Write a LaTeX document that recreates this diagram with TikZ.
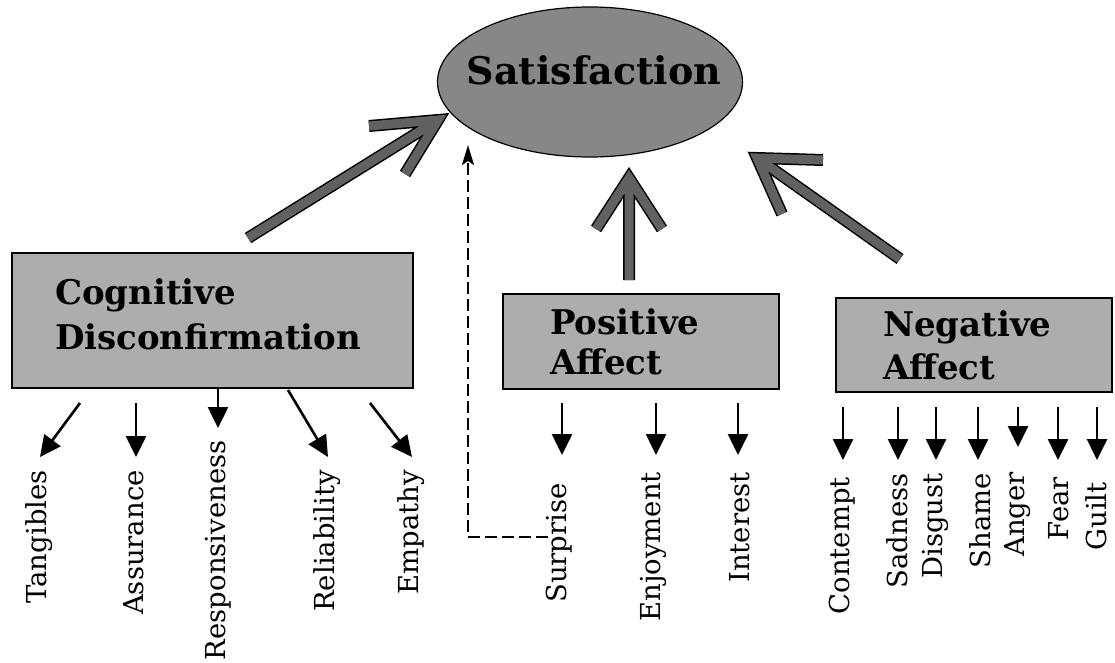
\documentclass[tikz,border=0pt]{standalone}
\usepackage{fontspec}
\setmainfont{DejaVu Serif}
\usetikzlibrary{shapes.geometric,arrows.meta}
\begin{document}
\begin{tikzpicture}[x=1pt,y=-1pt,
  box/.style={draw=black,line width=1.2pt,fill=black!32,rectangle,align=left,inner ysep=0pt},
  lab/.style={rotate=90,anchor=east,inner sep=0pt,font=\fontsize{27.5}{27.5}\selectfont},
  small/.style={line width=2.6pt,-{Triangle[width=20pt,length=21pt]}},
  big/.style={line width=1.5pt,double=black!62,double distance=9pt,line join=miter,line cap=butt},
  dashedarrow/.style={line width=2.6pt,dash pattern=on 12pt off 5pt,-{Stealth[width=12pt,length=20pt,inset=4pt]}}
]
\useasboundingbox (0,0) rectangle (1115,663);

% Satisfaction ellipse
\node[ellipse,draw=black,line width=1.2pt,fill=black!47,minimum width=305pt,minimum height=150pt,inner sep=0pt] (sat) at (590,82) {};
\node[anchor=base,inner sep=0pt,font=\bfseries\fontsize{38}{38}\selectfont] (sattext) at (594,85) {Satisfaction};

% boxes
\node[box,minimum width=401pt,minimum height=135pt,text width=315pt,inner xsep=43pt,font=\bfseries\fontsize{34}{45}\selectfont] (cog) at (212.5,320.5) {Cognitive\\Disconfirmation\rule[-12pt]{0pt}{12pt}};
\node[box,minimum width=276pt,minimum height=95pt,text width=182pt,inner xsep=47pt,font=\bfseries\fontsize{34}{40}\selectfont] (pos) at (641,341.5) {Positive\\Affect};
\node[box,minimum width=276pt,minimum height=94pt,text width=182pt,inner xsep=47pt,font=\bfseries\fontsize{34}{43}\selectfont] (neg) at (974,345) {Negative\\Affect};

% big arrows
\coordinate (a1tail) at (248,238); \coordinate (a1tip) at (438,120);
\coordinate (a1b1) at (369,126);   \coordinate (a1b2) at (405,174);
\draw[big] (a1b1) -- (a1tip) -- (a1b2) (a1tail) -- (a1tip);

\coordinate (a2tail) at (629,280); \coordinate (a2tip) at (629,178);
\coordinate (a2b1) at (596,229);   \coordinate (a2b2) at (662,229);
\draw[big] (a2b1) -- (a2tip) -- (a2b2) (a2tail) -- (a2tip);

\coordinate (a3tail) at (900,259); \coordinate (a3tip) at (757,158);
\coordinate (a3b1) at (823,160);   \coordinate (a3b2) at (782,214);
\draw[big] (a3b1) -- (a3tip) -- (a3b2) (a3tail) -- (a3tip);

% labels
\node[lab] (tang) at (39,470) {Tangibles};
\node[lab] (assu) at (134,470) {Assurance};
\node[lab] (resp) at (218,440) {Responsiveness};
\node[lab] (reli) at (327,470) {Reliability};
\node[lab] (empa) at (411,470) {Empathy};
\node[lab] (surp) at (559,483) {Surprise};
\node[lab] (enjo) at (653,472) {Enjoyment};
\node[lab] (inte) at (740,472) {Interest};
\node[lab] (cont) at (842,477) {Contempt};
\node[lab] (sadn) at (897,473) {Sadness};
\node[lab] (disg) at (935,473) {Disgust};
\node[lab] (sham) at (980,473) {Shame};
\node[lab] (ange) at (1018,472) {Anger};
\node[lab] (fear) at (1059,477) {Fear};
\node[lab] (guil) at (1096,482) {Guilt};

% small arrows, cognitive
\coordinate (s1) at (80,403);  \coordinate (e1) at (40,457);
\coordinate (s2) at (136,403); \coordinate (e2) at (136,457);
\coordinate (s3) at (218,388); \coordinate (e3) at (218,428);
\coordinate (s4) at (288,390); \coordinate (e4) at (328,457);
\coordinate (s5) at (370,403); \coordinate (e5) at (412,457);
\foreach \i in {1,...,5} {\draw[small] (s\i) -- (e\i);}

% small arrows, positive
\foreach \x [count=\i] in {562,656,738} {
  \coordinate (ps\i) at (\x,403); \coordinate (pe\i) at (\x,455);
  \draw[small] (ps\i) -- (pe\i);
}
% small arrows, negative
\foreach \x/\e [count=\i] in {843/460,898/460,936/460,978/460,1018/447,1058/460,1097/460} {
  \coordinate (ns\i) at (\x,407); \coordinate (ne\i) at (\x,\e);
  \draw[small] (ns\i) -- (ne\i);
}

% dashed arrow from Surprise to Satisfaction
\coordinate (dstart) at (548,537);
\coordinate (dend) at (468,145);
\draw[dashedarrow] (dstart) -| (dend);
\end{tikzpicture}
\end{document}
